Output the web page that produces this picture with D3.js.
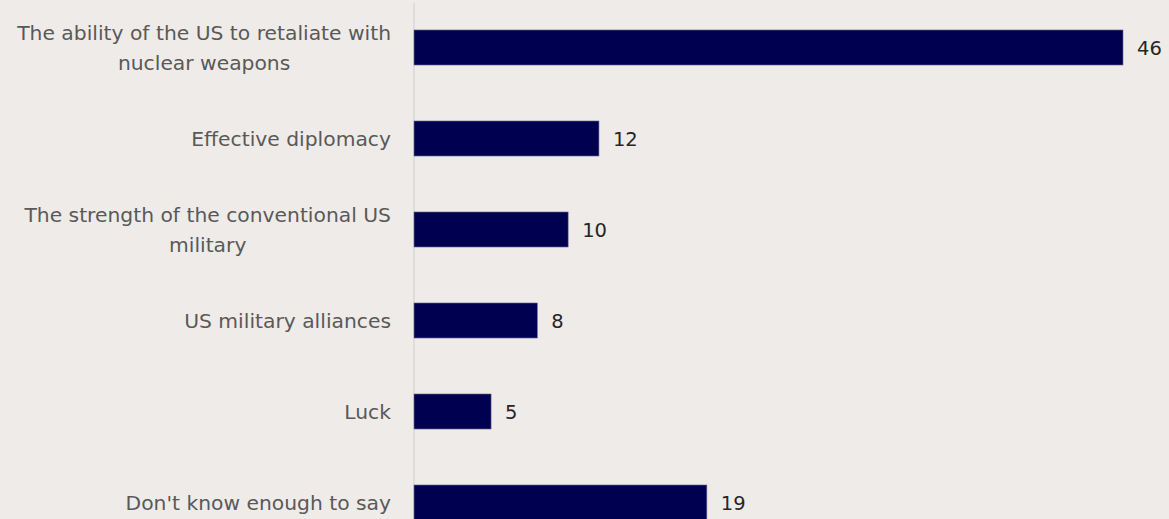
<!DOCTYPE html>
<html>
<head>
<meta charset="utf-8">
<script src="https://cdn.jsdelivr.net/npm/d3@7"></script>
<style>
  html, body { margin: 0; padding: 0; background: #EFEBE8; }
  svg { display: block; }
</style>
</head>
<body>
<svg id="chart" width="1169" height="519"></svg>
<script>
// Survey responses: what has kept the US safe from nuclear attack (%)
const categories = [
  "The ability of the US to retaliate with nuclear weapons",
  "Effective diplomacy",
  "The strength of the conventional US military",
  "US military alliances",
  "Luck",
  "Don't know enough to say"
];
const values = [46, 12, 10, 8, 5, 19];
// Line breaks used for the longer category labels
const labelLines = [
  ["The ability of the US to retaliate with", "nuclear weapons"],
  ["Effective diplomacy"],
  ["The strength of the conventional US", "military"],
  ["US military alliances"],
  ["Luck"],
  ["Don't know enough to say"]
];

const W = 1169, H = 519;
const axisX = 414;
const labelRight = 391;
const font = "'DejaVu Sans', sans-serif";

const svg = d3.select("#chart");

svg.append("rect").attr("width", W).attr("height", H).attr("fill", "#EFEBE8");

const x = d3.scaleLinear().domain([0, 46]).range([axisX, 1123]);
const y = d3.scaleBand()
  .domain(categories)
  .range([2, 548])
  .paddingInner(0.615)
  .paddingOuter(0.3075);

// Category axis line
svg.append("line")
  .attr("x1", axisX).attr("x2", axisX)
  .attr("y1", 3).attr("y2", H)
  .attr("stroke", "#D9D9D9").attr("stroke-width", 1.5);

// Bars
svg.selectAll("rect.bar")
  .data(values)
  .join("rect")
  .attr("class", "bar")
  .attr("x", x(0))
  .attr("y", (d, i) => y(categories[i]))
  .attr("width", d => x(d) - x(0))
  .attr("height", y.bandwidth())
  .attr("fill", "#000050")
  .attr("stroke", "#6a6a9a")
  .attr("stroke-width", 0.6);

// Value labels
svg.selectAll("text.val")
  .data(values)
  .join("text")
  .attr("class", "val")
  .attr("x", d => x(d) + 14)
  .attr("y", (d, i) => y(categories[i]) + y.bandwidth() / 2)
  .attr("dy", "0.36em")
  .attr("font-family", font)
  .attr("font-size", 19.5)
  .attr("fill", "#262626")
  .text(d => d);

// Category labels: lines centred within their block, block right-aligned to the axis
const lineGap = 30;
categories.forEach((c, i) => {
  const lines = labelLines[i];
  const cy = y(c) + y.bandwidth() / 2;
  const g = svg.append("g");
  const texts = lines.map((ln, k) => g.append("text")
    .attr("y", cy + (k - (lines.length - 1) / 2) * lineGap)
    .attr("dy", "0.36em")
    .attr("font-family", font)
    .attr("font-size", 20.3)
    .attr("fill", "#595959")
    .attr("text-anchor", "start")
    .text(ln));
  const widths = texts.map(t => t.node().getComputedTextLength());
  const maxW = d3.max(widths);
  texts.forEach((t, k) => t.attr("x", labelRight - maxW / 2 - widths[k] / 2));
});
</script>
</body>
</html>
